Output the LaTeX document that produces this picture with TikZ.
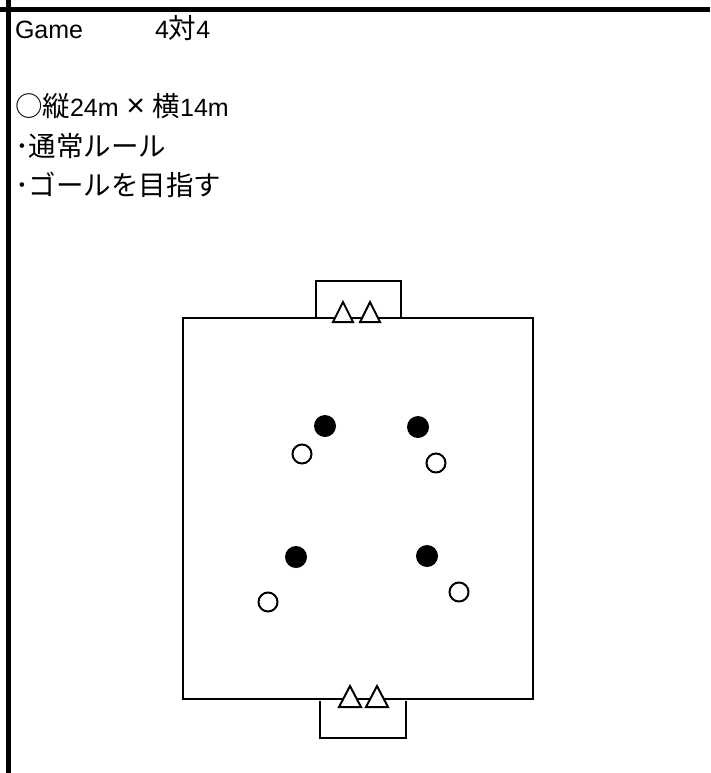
\documentclass[tikz,border=0pt]{standalone}
\usepackage{fontspec}
\setmainfont{Liberation Sans}
\newfontfamily\jpfont{Noto Sans CJK JP}
\newcommand\ja[1]{{\jpfont\fontsize{27.5}{30}\selectfont #1}}
\usetikzlibrary{positioning}

\begin{document}
\begin{tikzpicture}[x=1pt, y=-1pt,
  every node/.style={inner sep=0pt, outer sep=0pt},
  memo/.style={anchor=base west, font=\fontsize{25}{30}\selectfont},
  frame/.style={line width=5pt},
  pitch/.style={line width=2pt},
  attacker/.style={circle, fill=black, minimum size=22pt},
  defender/.style={circle, draw=black, line width=2pt, minimum size=19pt},
  cone/.style={draw=black, line width=2pt, fill=white, line join=miter}
  ]
  \useasboundingbox (0,0) rectangle (710,773);
  % sheet border
  \draw[frame] (0,9.5) -- (710,9.5);
  \draw[frame] (8,0) -- (8,773);
  % notes
  \node[memo] (game) at (15,39) {Game};
  \node[memo] (vs) at (155,39) {4\ja{対}4};
  \node[memo] (size) at (15,117) {\ja{○縦}24m\makebox[34pt]{\fontsize{32}{30}\selectfont ×}\ja{横}14m};
  \node[memo] (rule) at (15,156) {\ja{･通常ルール}};
  \node[memo] (aim) at (15,195) {\ja{･ゴールを目指す}};
  % pitch and goals
  \draw[pitch] (183,318) rectangle (533,699);
  \draw[pitch] (316,317) -- (316,281) -- (401,281) -- (401,317);
  \draw[pitch] (320,701) -- (320,738) -- (406,738) -- (406,701);
  % cones
  \foreach \cx/\cy in {343/302, 370/302}
    \draw[cone] (\cx,\cy) -- (\cx+10,\cy+20) -- (\cx-10,\cy+20) -- cycle;
  \foreach \cx/\cy in {350/686, 377/686}
    \draw[cone] (\cx,\cy) -- (\cx+11,\cy+21) -- (\cx-11,\cy+21) -- cycle;
  % players
  \node[attacker] (a1) at (325,426) {};
  \node[attacker] (a2) at (418,427) {};
  \node[attacker] (a3) at (296,557) {};
  \node[attacker] (a4) at (427,556) {};
  \node[defender] (d1) at (302,454) {};
  \node[defender] (d2) at (436,463) {};
  \node[defender] (d3) at (268,602) {};
  \node[defender] (d4) at (459,592) {};
\end{tikzpicture}
\end{document}
